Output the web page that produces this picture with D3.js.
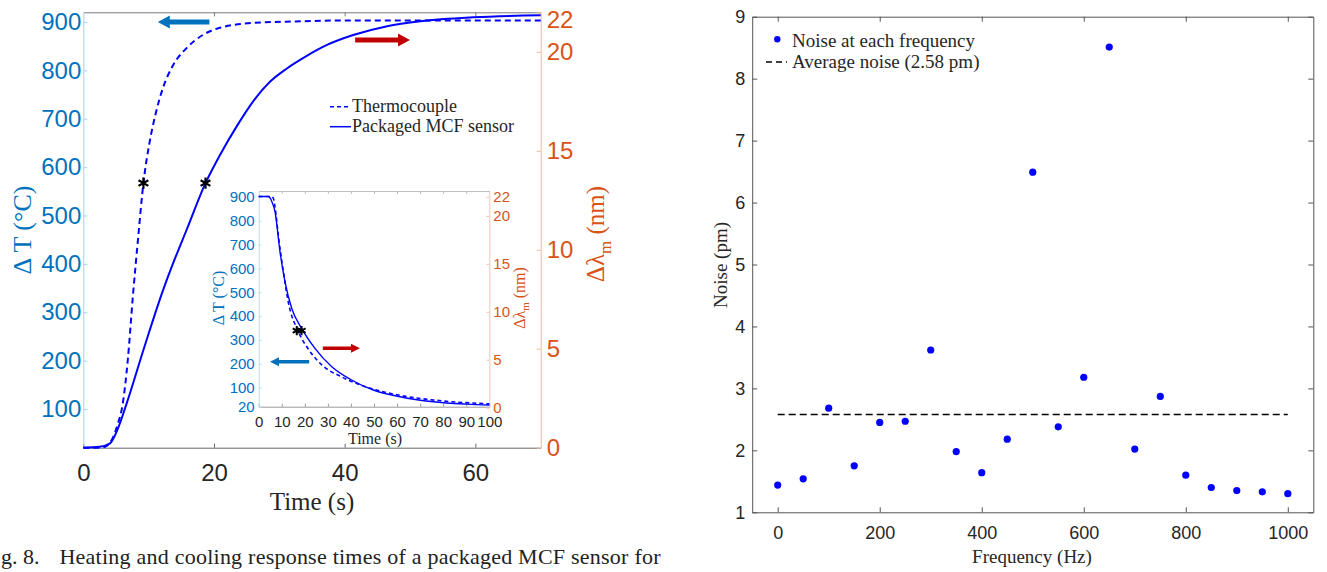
<!DOCTYPE html>
<html>
<head>
<meta charset="utf-8">
<script src="https://cdn.jsdelivr.net/npm/d3@7"></script>
<style>
  body { margin: 0; background: #fff; }
  svg { display: block; }
  .sans { font-family: "Liberation Sans", Arial, sans-serif; }
  .serif { font-family: "Liberation Serif", "Times New Roman", serif; }
</style>
</head>
<body>
<div id="viz"></div>
<script>
// ---- heating response (main plot) ----
var tcTime  = [0, 2.5, 3.6, 4.6, 5.3, 6.0, 6.8, 7.6, 8.4, 9.2, 10.1, 11.1, 12.2, 13.8, 15.8, 18.4, 20.9, 26, 32, 40, 55, 70];
var tcTemp  = [20, 20, 24, 43, 70, 108, 200, 335, 455, 567, 648, 712, 764, 812, 846, 874, 888, 898, 901, 903, 903, 903];
var mcfTime = [0, 2.5, 4.1, 5.1, 6.65, 9.2, 12.25, 13.9, 15.8, 18.7, 20.9, 23.5, 26.0, 28.6, 31.1, 34.2, 37.3, 41.3, 46.5, 51.6, 59.7, 70];
var mcfShift = [0, 0.05, 0.22, 0.81, 2.25, 4.94, 8.0, 9.45, 11.0, 13.37, 14.78, 16.25, 17.5, 18.5, 19.15, 19.8, 20.35, 20.85, 21.3, 21.55, 21.75, 21.85];
var heatStars = [{t: 9.2, temp: 567}, {t: 18.7, temp: 567}];
var tempTicks = [100, 200, 300, 400, 500, 600, 700, 800, 900];
var shiftTicks = [0, 5, 10, 15, 20, 22];
var timeTicks = [0, 20, 40, 60];

// ---- cooling response (inset) ----
var coolTcTime  = [0, 5.5, 6.3, 7.2, 8.5, 10.7, 12.8, 17.2, 21.5, 27.3, 36, 45, 60, 80, 100];
var coolTcTemp  = [902, 902, 895, 850, 740, 586, 461, 335, 262, 196, 145, 108, 70, 44, 32];
var coolMcfTime = [0, 4.0, 4.9, 5.8, 7.07, 9.24, 11.4, 14.3, 18.6, 24.4, 31.7, 40.3, 49.7, 61.3, 75.7, 90.2, 100];
var coolMcfTemp = [902, 902, 897, 878, 838, 670, 545, 433, 349, 265, 188, 132, 90, 62, 41, 31, 27];
var coolStars = [{t: 16.5, temp: 339}, {t: 18.6, temp: 339}];
var insetTempTicks = [20, 100, 200, 300, 400, 500, 600, 700, 800, 900];
var insetShiftTicks = [0, 5, 10, 15, 20, 22];
var insetTimeTicks = [0, 10, 20, 30, 40, 50, 60, 70, 80, 90, 100];

// ---- noise vs frequency ----
var freq  = [0, 50, 100, 150, 200, 250, 300, 350, 400, 450, 500, 550, 600, 650, 700, 750, 800, 850, 900, 950, 1000];
var noise = [1.44, 1.54, 2.68, 1.75, 2.45, 2.47, 3.62, 1.98, 1.64, 2.18, 6.49, 2.38, 3.18, 8.51, 2.02, 2.87, 1.60, 1.40, 1.35, 1.33, 1.30];
var avgNoise = 2.58;
var noiseTicks = [1, 2, 3, 4, 5, 6, 7, 8, 9];
var freqTicks = [0, 200, 400, 600, 800, 1000];

var BLUE = '#0072BD', ORANGE = '#D95319', LINE = '#0000FF', DARK = '#262626';

var svg = d3.select('#viz').append('svg')
  .attr('width', 1327).attr('height', 572);
svg.append('rect').attr('width', 1327).attr('height', 572).attr('fill', '#fff');

function arrow(g, x1, x2, y, color, shaft, headL, headH) {
  var dir = x2 > x1 ? 1 : -1;
  var xb = x2 - dir * headL;
  var p = [[x1, y - shaft / 2], [xb, y - shaft / 2], [xb, y - headH / 2], [x2, y],
           [xb, y + headH / 2], [xb, y + shaft / 2], [x1, y + shaft / 2]];
  g.append('path').attr('d', 'M' + p.join('L') + 'Z').attr('fill', color);
}

function styleAxis(g, lineColor, textColor, size) {
  g.select('.domain').attr('stroke', lineColor);
  g.selectAll('.tick line').attr('stroke', lineColor);
  g.selectAll('.tick text').attr('fill', textColor).attr('class', 'sans').style('font-size', size + 'px');
}

// =================== main heating plot ===================
var x = d3.scaleLinear().domain([0, 70]).range([83.3, 540.7]);
var yT = d3.scaleLinear().domain([20, 920]).range([447.7, 12.3]);
var yN = d3.scaleLinear().domain([0, 22]).range([447.7, 12.3]);

var main = svg.append('g');

main.append('g').attr('transform', 'translate(0,12.3)')
  .call(d3.axisTop(x).tickValues([20, 40, 60]).tickSize(-4).tickSizeOuter(0).tickFormat(''))
  .call(function(g) { styleAxis(g, '#7a7a7a', DARK, 24); });
main.append('g').attr('transform', 'translate(0,447.7)')
  .call(d3.axisBottom(x).tickValues(timeTicks).tickSize(-4).tickSizeOuter(0).tickPadding(16))
  .call(function(g) { styleAxis(g, '#666', DARK, 24); });
main.append('g').attr('transform', 'translate(83.3,0)')
  .call(d3.axisLeft(yT).tickValues(tempTicks).tickSize(-4).tickSizeOuter(0).tickPadding(2))
  .call(function(g) { styleAxis(g, '#a9d0ee', BLUE, 24); });
var rAx = main.append('g').attr('transform', 'translate(540.7,0)')
  .call(d3.axisRight(yN).tickValues(shiftTicks).tickSize(-4).tickSizeOuter(0).tickPadding(6))
  .call(function(g) { styleAxis(g, '#f2b8a0', ORANGE, 24); });
rAx.selectAll('.tick').filter(function(d) { return d === 22; }).select('text').attr('y', 8);

var lineT = d3.line().x(function(d) { return x(d[0]); }).y(function(d) { return yT(d[1]); }).curve(d3.curveMonotoneX);
var lineN = d3.line().x(function(d) { return x(d[0]); }).y(function(d) { return yN(d[1]); }).curve(d3.curveMonotoneX);

main.append('path').datum(d3.zip(tcTime, tcTemp)).attr('d', lineT)
  .attr('fill', 'none').attr('stroke', LINE).attr('stroke-width', 2).attr('stroke-dasharray', '6,4');
main.append('path').datum(d3.zip(mcfTime, mcfShift)).attr('d', lineN)
  .attr('fill', 'none').attr('stroke', LINE).attr('stroke-width', 2);

var star = d3.symbol().type(d3.symbolAsterisk).size(90);
main.selectAll('.hstar').data(heatStars).enter().append('path')
  .attr('d', star).attr('transform', function(d) { return 'translate(' + x(d.t) + ',' + yT(d.temp) + ')'; })
  .attr('fill', 'none').attr('stroke', '#000').attr('stroke-width', 2.2);

arrow(main, x(19.3), x(11.4), yT(900), BLUE, 5, 12, 13);
arrow(main, x(41.6), x(50), yN(20.6), '#C00000', 5, 12, 13);

// legend
var leg = main.append('g').attr('class', 'serif').style('font-size', '18px');
leg.append('line').attr('x1', 330).attr('x2', 351).attr('y1', 106.7).attr('y2', 106.7)
  .attr('stroke', LINE).attr('stroke-width', 1.5).attr('stroke-dasharray', '4,3');
leg.append('line').attr('x1', 330).attr('x2', 351).attr('y1', 126.7).attr('y2', 126.7)
  .attr('stroke', LINE).attr('stroke-width', 1.5);
leg.append('text').attr('x', 352).attr('y', 112).attr('fill', DARK).text('Thermocouple');
leg.append('text').attr('x', 352).attr('y', 132).attr('fill', DARK).text('Packaged MCF sensor');

// axis titles
main.append('text').attr('class', 'serif').attr('transform', 'translate(31,230) rotate(-90)')
  .attr('text-anchor', 'middle').attr('fill', BLUE).style('font-size', '26px').text('\u0394 T (\u00B0C)');
var rt = main.append('text').attr('class', 'serif').attr('transform', 'translate(604,234) rotate(-90)')
  .attr('text-anchor', 'middle').attr('fill', ORANGE).style('font-size', '25px');
rt.append('tspan').text('\u0394\u03BB');
rt.append('tspan').attr('dy', 7).style('font-size', '17px').text('m');
rt.append('tspan').attr('dy', -7).text(' (nm)');
main.append('text').attr('class', 'serif').attr('x', 312).attr('y', 510)
  .attr('text-anchor', 'middle').attr('fill', DARK).style('font-size', '25px').text('Time (s)');

// =================== inset cooling plot ===================
var xi = d3.scaleLinear().domain([0, 100]).range([258.7, 489.3]);
var yiT = d3.scaleLinear().domain([20, 925]).range([406.7, 191]);
var yiN = d3.scaleLinear().domain([0, 22.6]).range([407.7, 191]);

var inset = svg.append('g');
inset.append('rect').attr('x', 258.7).attr('y', 191).attr('width', 230.6).attr('height', 215.7).attr('fill', '#fff');

inset.append('g').attr('transform', 'translate(0,191)')
  .call(d3.axisTop(xi).tickValues(insetTimeTicks.slice(1, 10)).tickSize(-3).tickSizeOuter(0).tickFormat(''))
  .call(function(g) { styleAxis(g, '#bdbdbd', DARK, 15); });
inset.append('g').attr('transform', 'translate(0,406.7)')
  .call(d3.axisBottom(xi).tickValues(insetTimeTicks).tickSize(-3).tickSizeOuter(0).tickPadding(10))
  .call(function(g) { styleAxis(g, '#9a9a9a', DARK, 15); });
inset.append('g').attr('transform', 'translate(258.7,0)')
  .call(d3.axisLeft(yiT).tickValues(insetTempTicks).tickSize(-3).tickSizeOuter(0).tickPadding(4))
  .call(function(g) { styleAxis(g, '#bcdcf3', BLUE, 15); });
inset.append('g').attr('transform', 'translate(489.3,0)')
  .call(d3.axisRight(yiN).tickValues(insetShiftTicks).tickSize(-3).tickSizeOuter(0).tickPadding(4))
  .call(function(g) { styleAxis(g, '#f5c7b3', ORANGE, 15); });

var lineI = d3.line().x(function(d) { return xi(d[0]); }).y(function(d) { return yiT(d[1]); }).curve(d3.curveMonotoneX);
inset.append('path').datum(d3.zip(coolTcTime, coolTcTemp)).attr('d', lineI)
  .attr('fill', 'none').attr('stroke', LINE).attr('stroke-width', 1.6).attr('stroke-dasharray', '4,3');
inset.append('path').datum(d3.zip(coolMcfTime, coolMcfTemp)).attr('d', lineI)
  .attr('fill', 'none').attr('stroke', LINE).attr('stroke-width', 1.4);

var star2 = d3.symbol().type(d3.symbolAsterisk).size(60);
inset.selectAll('.cstar').data(coolStars).enter().append('path')
  .attr('d', star2).attr('transform', function(d) { return 'translate(' + xi(d.t) + ',' + yiT(d.temp) + ')'; })
  .attr('fill', 'none').attr('stroke', '#000').attr('stroke-width', 2);

arrow(inset, xi(21.9), xi(4.9), yiT(209), BLUE, 3.5, 9, 9);
arrow(inset, xi(27.8), xi(43.9), yiT(265), '#C00000', 3.5, 9, 9);

inset.append('text').attr('class', 'serif').attr('transform', 'translate(224,298) rotate(-90)')
  .attr('text-anchor', 'middle').attr('fill', BLUE).style('font-size', '16px').text('\u0394 T (\u00B0C)');
var it = inset.append('text').attr('class', 'serif').attr('transform', 'translate(525,298) rotate(-90)')
  .attr('text-anchor', 'middle').attr('fill', ORANGE).style('font-size', '16px');
it.append('tspan').text('\u0394\u03BB');
it.append('tspan').attr('dy', 4).style('font-size', '11px').text('m');
it.append('tspan').attr('dy', -4).text(' (nm)');
inset.append('text').attr('class', 'serif').attr('x', 375).attr('y', 444)
  .attr('text-anchor', 'middle').attr('fill', DARK).style('font-size', '16px').text('Time (s)');

// caption, as much of it as the source crop shows
svg.append('text').attr('class', 'serif').attr('x', 1).attr('y', 564)
  .attr('fill', '#222').style('font-size', '22px').text('g. 8.');
svg.append('text').attr('class', 'serif').attr('x', 59.5).attr('y', 564)
  .attr('fill', '#222').style('font-size', '22px')
  .attr('textLength', 601).attr('lengthAdjust', 'spacing')
  .text('Heating and cooling response times of a packaged MCF sensor for');

// =================== noise plot ===================
var xf = d3.scaleLinear().domain([-50, 1050]).range([752.2, 1313.3]);
var yn = d3.scaleLinear().domain([1, 9]).range([512.3, 16.7]);

var np = svg.append('g');
np.append('g').attr('transform', 'translate(0,16.7)')
  .call(d3.axisTop(xf).tickValues(freqTicks).tickSize(-5).tickSizeOuter(0).tickFormat(''))
  .call(function(g) { styleAxis(g, '#555', DARK, 18); });
np.append('g').attr('transform', 'translate(0,512.3)')
  .call(d3.axisBottom(xf).tickValues(freqTicks).tickFormat(d3.format('d')).tickSize(-5).tickSizeOuter(0).tickPadding(14))
  .call(function(g) { styleAxis(g, '#555', DARK, 18); });
np.append('g').attr('transform', 'translate(752.2,0)')
  .call(d3.axisLeft(yn).tickValues(noiseTicks).tickSize(-5).tickSizeOuter(0).tickPadding(7))
  .call(function(g) { styleAxis(g, '#555', DARK, 18); });
np.append('g').attr('transform', 'translate(1313.3,0)')
  .call(d3.axisRight(yn).tickValues(noiseTicks).tickSize(-5).tickSizeOuter(0).tickFormat(''))
  .call(function(g) { styleAxis(g, '#555', DARK, 18); });

np.append('line').attr('x1', xf(0)).attr('x2', xf(1000)).attr('y1', yn(avgNoise)).attr('y2', yn(avgNoise))
  .attr('stroke', '#000').attr('stroke-width', 1.5).attr('stroke-dasharray', '7,4');

np.selectAll('.dot').data(d3.zip(freq, noise)).enter().append('circle')
  .attr('cx', function(d) { return xf(d[0]); }).attr('cy', function(d) { return yn(d[1]); })
  .attr('r', 3.6).attr('fill', LINE);

var nl = np.append('g').attr('class', 'serif').style('font-size', '19px');
nl.append('circle').attr('cx', 777.3).attr('cy', 39.3).attr('r', 3.2).attr('fill', LINE);
nl.append('line').attr('x1', 766).attr('x2', 787).attr('y1', 62).attr('y2', 62)
  .attr('stroke', '#000').attr('stroke-width', 1.5).attr('stroke-dasharray', '6,4');
nl.append('text').attr('x', 792).attr('y', 46.5).attr('fill', DARK).text('Noise at each frequency');
nl.append('text').attr('x', 792).attr('y', 67.5).attr('fill', DARK).text('Average noise (2.58 pm)');

np.append('text').attr('class', 'serif').attr('transform', 'translate(727,265) rotate(-90)')
  .attr('text-anchor', 'middle').attr('fill', DARK).style('font-size', '19px').text('Noise (pm)');
np.append('text').attr('class', 'serif').attr('x', 1032).attr('y', 563)
  .attr('text-anchor', 'middle').attr('fill', DARK).style('font-size', '19px').text('Frequency (Hz)');
</script>
</body>
</html>
